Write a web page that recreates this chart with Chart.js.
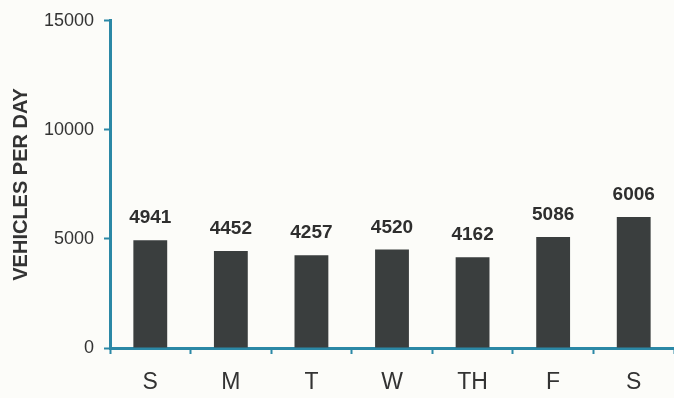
<!DOCTYPE html>
<html>
<head>
<meta charset="utf-8">
<script src="https://cdn.jsdelivr.net/npm/chart.js@4"></script>
<style>
  html, body { margin: 0; padding: 0; background: #fcfcf9; }
  #wrap { width: 674px; height: 398px; }
</style>
</head>
<body>
<div id="wrap"><canvas id="c" width="674" height="398"></canvas></div>
<script>
// Daily traffic counts
const days = ['S', 'M', 'T', 'W', 'TH', 'F', 'S'];
const vehicles = [4941, 4452, 4257, 4520, 4162, 5086, 6006];
const yTicks = [0, 5000, 10000, 15000];

const axisColor = '#2b88a6';
const inkColor = '#333333';
const fontFamily = '"Liberation Sans", Arial, sans-serif';

// Value labels written above each bar
const barValues = {
  id: 'barValues',
  afterDatasetsDraw(chart) {
    const ctx = chart.ctx;
    const meta = chart.getDatasetMeta(0);
    ctx.save();
    ctx.font = 'bold 19px ' + fontFamily;
    ctx.fillStyle = '#2e2e2e';
    ctx.textAlign = 'center';
    ctx.textBaseline = 'middle';
    meta.data.forEach((bar, i) => {
      ctx.fillText(String(vehicles[i]), bar.x, bar.y - 22);
    });
    ctx.restore();
  }
};

new Chart(document.getElementById('c'), {
  type: 'bar',
  data: {
    labels: days,
    datasets: [{
      data: vehicles,
      backgroundColor: '#3a3e3e',
      borderWidth: 0,
      barPercentage: 0.42,
      categoryPercentage: 1.0
    }]
  },
  options: {
    responsive: false,
    animation: false,
    layout: { padding: { top: 18, right: 0, bottom: 0, left: 0 } },
    plugins: {
      legend: { display: false },
      tooltip: { enabled: false }
    },
    scales: {
      x: {
        grid: {
          display: true,
          drawOnChartArea: false,
          drawTicks: true,
          tickLength: 6,
          tickWidth: 2,
          color: axisColor,
          offset: true
        },
        border: { display: true, color: axisColor, width: 3 },
        ticks: {
          color: inkColor,
          padding: 15,
          font: { family: fontFamily, size: 23 }
        },
        afterFit(scale) { scale.height = 50; }
      },
      y: {
        min: 0,
        max: 15000,
        afterBuildTicks(scale) { scale.ticks = yTicks.map(v => ({ value: v })); },
        grid: {
          display: true,
          drawOnChartArea: false,
          drawTicks: true,
          tickLength: 6,
          tickWidth: 2,
          color: axisColor
        },
        border: { display: true, color: axisColor, width: 3 },
        ticks: {
          color: inkColor,
          padding: 10,
          font: { family: fontFamily, size: 18 },
          callback: (v) => String(v)
        },
        title: {
          display: true,
          text: 'VEHICLES PER DAY',
          color: inkColor,
          padding: { top: 9, bottom: 0 },
          font: { family: fontFamily, size: 20, weight: 'bold' }
        },
        afterFit(scale) { scale.width = 110; }
      }
    }
  },
  plugins: [barValues]
});
</script>
</body>
</html>
